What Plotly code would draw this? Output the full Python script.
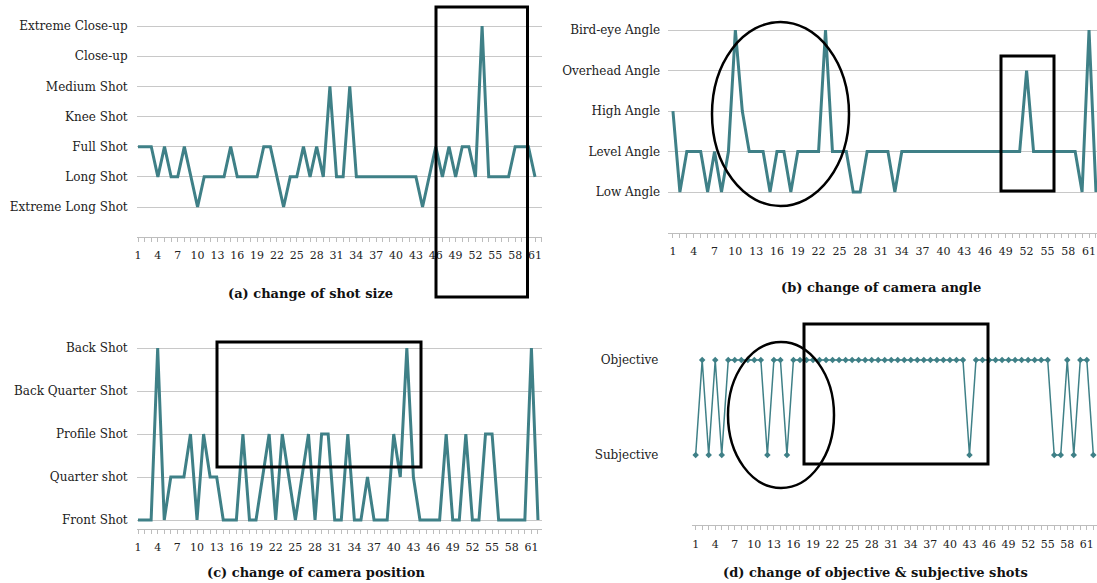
import plotly.graph_objects as go

W, H = 1097, 583

# ---------------- data ----------------
shot_size_labels = ["Extreme Long Shot", "Long Shot", "Full Shot", "Knee Shot",
                    "Medium Shot", "Close-up", "Extreme Close-up"]
shot_size = [3, 3, 3, 2, 3, 2, 2, 3, 2, 1,
             2, 2, 2, 2, 3, 2, 2, 2, 2, 3,
             3, 2, 1, 2, 2, 3, 2, 3, 2, 5,
             2, 2, 5, 2, 2, 2, 2, 2, 2, 2,
             2, 2, 2, 1, 2, 3, 2, 3, 2, 3,
             3, 2, 7, 2, 2, 2, 2, 3, 3, 3,
             2]

angle_labels = ["Low Angle", "Level Angle", "High Angle", "Overhead Angle", "Bird-eye Angle"]
camera_angle = [3, 1, 2, 2, 2, 1, 2, 1, 2, 5,
                3, 2, 2, 2, 1, 2, 2, 1, 2, 2,
                2, 2, 5, 2, 2, 2, 1, 1, 2, 2,
                2, 2, 1, 2, 2, 2, 2, 2, 2, 2,
                2, 2, 2, 2, 2, 2, 2, 2, 2, 2,
                2, 4, 2, 2, 2, 2, 2, 2, 2, 1,
                5, 1]

position_labels = ["Front Shot", "Quarter shot", "Profile Shot", "Back Quarter Shot", "Back Shot"]
camera_position = [1, 1, 1, 5, 1, 2, 2, 2, 3, 1,
                   3, 2, 2, 1, 1, 1, 3, 1, 1, 2,
                   3, 1, 3, 2, 1, 2, 3, 1, 3, 3,
                   1, 1, 3, 1, 1, 2, 1, 1, 1, 3,
                   2, 5, 2, 1, 1, 1, 1, 3, 1, 1,
                   3, 1, 1, 3, 3, 1, 1, 1, 1, 1,
                   5, 1]

objective_labels = ["Subjective", "Objective"]
objective = [1, 2, 1, 2, 1, 2, 2, 2, 2, 2,
             2, 1, 2, 2, 1, 2, 2, 2, 2, 2,
             2, 2, 2, 2, 2, 2, 2, 2, 2, 2,
             2, 2, 2, 2, 2, 2, 2, 2, 2, 2,
             2, 2, 1, 2, 2, 2, 2, 2, 2, 2,
             2, 2, 2, 2, 2, 1, 1, 2, 1, 2,
             2, 1]

titles = ["(a) change of shot size", "(b) change of camera angle",
          "(c) change of camera position", "(d) change of objective & subjective shots"]

# ---------------- styling / layout ----------------
TEAL = "#3F8087"
GRID = "#C8C8C8"
AXIS = "#BDBDBD"
LABEL_FONT = dict(family="DejaVu Serif", size=12, color="#222222")
TICK_FONT = dict(family="DejaVu Serif", size=11, color="#222222")


def dom_x(p0, p1):
    return [p0 / W, min(p1 / W, 1.0)]


def dom_y(top, bottom):
    return [1 - bottom / H, 1 - top / H]


fig = go.Figure()

panels = [
    dict(y=shot_size, labels=shot_size_labels, xr=[0.8, 62.1], yr=[0, 7.1],
         xd=(136.7, 542.3), yd=(23.0, 237.2), standoff=8, grid=True, mode="lines", width=3),
    dict(y=camera_angle, labels=angle_labels, xr=[0.3, 62.15], yr=[0, 5.1],
         xd=(668.1, 1097), yd=(26.0, 232.5), standoff=7, grid=True, mode="lines", width=3),
    dict(y=camera_position, labels=position_labels, xr=[0.8, 62.6], yr=[0.8, 5.1],
         xd=(136.7, 541.9), yd=(343.7, 528.6), standoff=8, grid=True, mode="lines", width=3),
    dict(y=objective, labels=objective_labels, xr=[0.5, 62.5], yr=[0.26, 2.3],
         xd=(692.4, 1096.6), yd=(331.5, 525.3), standoff=33, grid=False, mode="lines+markers", width=1.5),
]

for k, p in enumerate(panels, start=1):
    xs = list(range(1, len(p["y"]) + 1))
    xa = "x" if k == 1 else f"x{k}"
    ya = "y" if k == 1 else f"y{k}"
    fig.add_trace(go.Scatter(
        x=xs, y=p["y"], mode=p["mode"], xaxis=xa, yaxis=ya,
        line=dict(color=TEAL, width=p["width"]),
        marker=dict(symbol="diamond", size=5, color=TEAL),
        showlegend=False, hoverinfo="skip", cliponaxis=False))
    xkey = "xaxis" if k == 1 else f"xaxis{k}"
    ykey = "yaxis" if k == 1 else f"yaxis{k}"
    fig.layout[xkey] = dict(
        domain=dom_x(*p["xd"]), range=p["xr"], anchor=ya, automargin=False,
        tickmode="linear", tick0=1, dtick=3,
        ticks="outside", ticklen=4, tickcolor=AXIS, tickwidth=1,
        minor=dict(dtick=1, tick0=1, ticks="outside", ticklen=4, tickcolor=AXIS, showgrid=False),
        showline=True, linecolor=AXIS, linewidth=1,
        showgrid=False, zeroline=False, tickfont=TICK_FONT, ticklabelstandoff=4)
    fig.layout[ykey] = dict(
        domain=dom_y(*p["yd"]), range=p["yr"], anchor=xa, automargin=False,
        tickmode="array", tickvals=list(range(1, len(p["labels"]) + 1)), ticktext=p["labels"],
        ticks="", showline=False, showgrid=p["grid"], gridcolor=GRID, gridwidth=1,
        zeroline=False, tickfont=LABEL_FONT, ticklabelstandoff=p["standoff"])

# panel titles
title_pos = [(310, 293), (881, 288), (316, 572), (875, 572)]
for t, (cx, cy) in zip(titles, title_pos):
    fig.add_annotation(text=f"<b>{t}</b>", x=cx / W, y=1 - cy / H, xref="paper", yref="paper",
                       showarrow=False, xanchor="center", yanchor="middle",
                       font=dict(family="DejaVu Serif", size=13, color="#111111"))

# highlight boxes and ellipses (annotations drawn on the original figure)
highlights = [
    ("rect", 436, 7, 527.5, 297, 3),
    ("circle", 712, 22, 849, 206, 2.5),
    ("rect", 1001, 56, 1054, 191, 3),
    ("rect", 217, 342, 421, 467, 3),
    ("circle", 728, 342, 834, 488, 2.5),
    ("rect", 804, 324, 988, 464, 3),
]
for kind, x0, y0, x1, y1, lw in highlights:
    fig.add_shape(type=kind, xref="paper", yref="paper",
                  x0=x0 / W, x1=x1 / W, y0=1 - y1 / H, y1=1 - y0 / H,
                  line=dict(color="black", width=lw), fillcolor="rgba(0,0,0,0)", layer="above")

fig.update_layout(width=W, height=H, autosize=False,
                  margin=dict(l=0, r=0, t=0, b=0, autoexpand=False),
                  paper_bgcolor="white", plot_bgcolor="white",
                  showlegend=False)

fig.write_html("out.html", config={"displayModeBar": False},
               post_script="document.body.style.margin='0';document.body.style.overflow='hidden';")
